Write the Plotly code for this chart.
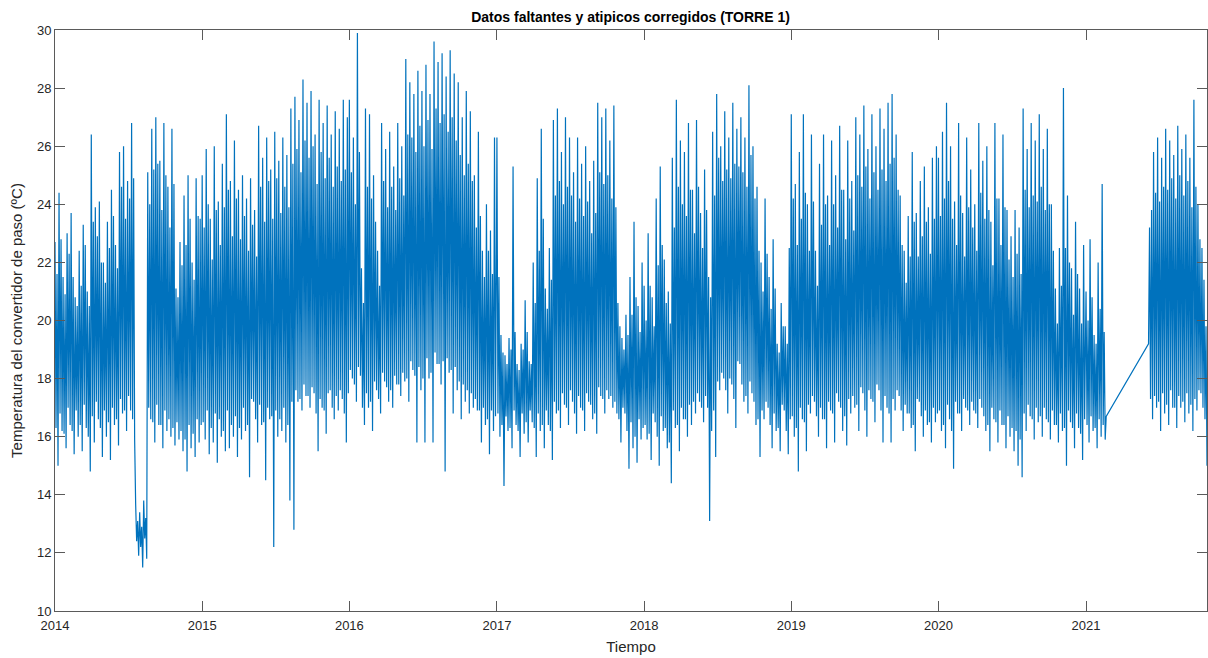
import pandas as pd
import plotly.graph_objects as go

# Temperature readings (ºC), one every 2.5 days
temp_2014 = [22.7, 16.3, 21.6, 15.0, 24.4, 16.8, 22.8, 16.2, 21.5, 16.1, 20.9, 15.6, 23.0, 17.0, 22.3, 16.4,
             23.7, 16.2, 21.5, 15.4, 20.8, 16.9, 20.5, 16.0, 22.4, 16.4, 21.2, 15.5, 23.3, 17.1, 22.6, 16.3,
             21.0, 16.0, 20.5, 14.8, 26.4, 16.7, 23.4, 15.8, 23.9, 17.2, 22.9, 16.6, 24.1, 16.3, 22.0, 15.3,
             22.0, 16.9, 21.3, 16.0, 23.4, 16.5, 22.5, 15.2, 24.5, 17.0, 23.6, 16.4, 22.6, 16.6, 21.8, 15.7,
             25.8, 17.3, 24.6, 16.8, 26.0, 16.9, 23.5, 16.2, 24.8, 17.4, 24.2, 16.9, 26.8, 16.6, 24.9, 15.9,
             13.7, 12.4, 13.1, 11.9, 13.4, 12.2, 12.9, 11.5, 13.8, 12.5, 13.2, 11.8, 25.1, 17.0, 24.0, 16.6,
             26.6, 16.5, 25.2, 15.8, 27.0, 17.1, 25.4, 16.4, 25.5, 16.4, 23.8, 15.6, 26.8, 16.9, 25.0, 16.2,
             24.6, 16.6, 23.2, 16.0, 26.6, 16.3, 24.7, 15.7, 21.1, 16.5, 20.8, 15.9, 22.7, 16.2, 21.9, 15.5,
             24.3, 15.9, 22.6, 14.8, 25.0, 16.4, 23.5, 15.6, 22.0, 16.1, 21.4, 15.3, 24.9, 16.6, 23.6, 15.8,
             23.5, 16.4]
temp_2015 = [25.0, 16.5, 23.2, 15.9, 25.9, 16.9, 24.0, 15.4, 23.5, 16.3, 22.1, 15.8, 26.0, 16.8, 23.8, 15.1,
             24.1, 16.6, 22.6, 16.0, 25.4, 16.2, 23.9, 15.5, 27.1, 16.9, 24.5, 15.6, 24.8, 16.4, 22.9, 16.0,
             26.2, 16.7, 24.2, 15.3, 24.5, 16.3, 22.8, 15.9, 25.0, 17.0, 23.6, 16.2, 24.2, 16.4, 22.4, 14.6,
             24.9, 17.3, 23.3, 17.2, 23.8, 16.6, 22.2, 15.8, 26.7, 17.1, 24.6, 16.4, 25.6, 16.5, 23.4, 14.5,
             26.3, 17.0, 24.8, 16.6, 25.2, 16.7, 23.5, 12.2, 26.5, 16.9, 24.9, 16.0, 25.5, 16.6, 23.7, 16.2,
             26.3, 17.0, 24.6, 15.8, 25.7, 16.4, 23.9, 13.8, 27.3, 17.2, 25.4, 12.8, 27.7, 17.6, 25.9, 17.2,
             26.9, 17.3, 25.1, 16.9, 28.3, 17.8, 26.2, 17.4, 27.5, 17.4, 25.6, 17.0, 27.9, 17.7, 26.0, 17.5,
             26.4, 16.8, 24.7, 15.5, 27.6, 17.3, 25.8, 17.0, 26.8, 16.9, 24.9, 16.1, 27.4, 17.5, 25.6, 17.6,
             26.4, 17.0, 24.6, 16.6, 27.2, 17.4, 25.3, 16.9, 26.6, 17.6, 24.8, 17.3, 27.6, 16.8, 25.2, 15.8,
             27.0, 17.5]
temp_2016 = [27.6, 18.3, 25.1, 18.0, 26.3, 17.8, 24.0, 17.2, 29.9, 18.4, 25.8, 18.1, 21.8, 17.0, 20.6, 16.4,
             27.3, 17.5, 24.6, 17.0, 27.1, 17.2, 24.2, 16.2, 25.0, 17.9, 23.4, 17.6, 22.4, 17.3, 21.2, 16.8,
             26.8, 18.2, 24.8, 17.9, 25.9, 17.7, 23.9, 17.2, 26.5, 17.6, 24.6, 17.0, 25.3, 18.1, 23.8, 17.8,
             26.8, 17.8, 24.9, 17.4, 26.0, 18.2, 24.3, 17.9, 29.0, 18.0, 26.4, 17.2, 28.2, 18.6, 26.3, 18.3,
             27.8, 18.1, 25.8, 15.8, 28.6, 18.4, 26.7, 17.6, 27.9, 18.0, 26.0, 15.8, 28.8, 18.7, 26.9, 18.0,
             27.8, 18.2, 25.9, 15.8, 29.6, 18.9, 27.3, 18.5, 28.9, 18.5, 26.8, 17.8, 29.2, 18.6, 27.1, 14.8,
             28.4, 18.7, 26.5, 18.2, 29.3, 18.3, 27.0, 16.8, 28.5, 18.4, 26.2, 17.6, 28.2, 17.9, 25.7, 16.6,
             27.0, 17.8, 25.0, 17.2, 27.9, 17.6, 25.4, 16.8, 27.2, 17.5, 24.8, 17.0, 25.0, 17.3, 23.2, 16.9,
             26.5, 16.9, 23.6, 15.8, 22.4, 17.0, 21.5, 16.4, 24.0, 16.6, 22.4, 15.4, 23.1, 16.9, 21.6, 16.2,
             26.3, 16.7, 23.0]
temp_2017 = [26.3, 16.8, 21.5, 16.0, 19.5, 16.4, 18.9, 14.3, 18.8, 16.7, 18.5, 16.2, 19.4, 16.3, 19.0, 15.6,
             25.3, 16.9, 19.6, 16.4, 18.5, 16.2, 18.3, 15.3, 19.2, 16.8, 19.0, 16.1, 20.7, 16.5, 19.6, 15.8,
             18.6, 16.9, 18.5, 16.5, 22.0, 16.3, 20.6, 15.3, 24.9, 16.8, 22.4, 16.2, 26.6, 16.4, 23.5, 15.6,
             21.1, 16.9, 20.4, 16.4, 22.5, 16.2, 21.4, 15.2, 26.9, 17.2, 24.3, 16.8, 27.3, 16.9, 24.8, 16.3,
             25.8, 17.5, 24.0, 17.1, 27.0, 17.0, 24.6, 16.4, 26.3, 17.6, 24.3, 17.2, 25.1, 16.8, 23.4, 16.1,
             26.3, 17.4, 24.2, 17.0, 25.4, 16.9, 23.6, 16.2, 26.0, 17.5, 24.1, 17.2, 24.8, 17.1, 23.0, 16.6,
             25.5, 16.8, 23.7, 16.1, 27.5, 17.7, 25.1, 17.4, 27.0, 17.3, 24.7, 16.8, 27.3, 17.6, 25.0, 17.3,
             26.2, 17.4, 24.2, 17.0, 27.4, 17.2, 23.9, 16.8, 20.6, 16.6, 19.8, 15.8, 19.4, 17.0, 19.0, 16.8,
             20.2, 16.2, 19.5, 14.9, 21.5, 16.5, 20.2, 15.6, 23.4, 16.0, 20.8, 15.1, 20.5, 16.6, 19.6, 15.9,
             22.0, 16.3]
temp_2018 = [21.2, 16.4, 20.0, 15.9, 23.0, 16.1, 21.2, 15.2, 20.8, 16.8, 19.8, 16.5, 24.2, 16.0, 21.9, 15.0,
             25.3, 16.7, 22.6, 16.2, 22.1, 16.3, 20.6, 15.6, 21.0, 15.8, 19.9, 14.4, 25.6, 16.9, 23.2, 16.3,
             27.6, 16.4, 24.6, 15.5, 26.2, 17.0, 24.0, 16.6, 25.8, 16.6, 23.6, 16.0, 26.8, 17.1, 24.5, 16.4,
             24.5, 17.2, 23.0, 16.8, 26.9, 17.5, 24.6, 17.2, 23.7, 17.0, 22.5, 16.5, 25.2, 17.4, 23.8, 17.0,
             21.5, 13.1, 20.8, 16.2, 26.5, 16.9, 24.3, 15.3, 27.8, 17.9, 25.6, 17.6, 26.0, 18.2, 24.8, 18.0,
             27.2, 17.6, 25.2, 16.8, 26.3, 18.0, 24.9, 17.8, 27.5, 17.3, 25.4, 16.3, 26.6, 18.6, 25.3, 18.5,
             27.0, 17.8, 25.1, 17.2, 26.3, 17.4, 24.6, 16.8, 28.1, 17.9, 25.7, 17.5, 26.0, 17.2, 24.2, 16.4,
             24.6, 16.6, 22.4, 15.3, 22.0, 16.9, 21.0, 16.6, 24.2, 17.2, 22.3, 17.0, 21.5, 16.4, 20.4, 15.6,
             22.8, 16.8, 21.1, 16.2, 19.2, 16.3, 18.9, 15.5, 20.6, 17.1, 19.8, 16.9, 19.8, 16.2, 19.2, 15.4,
             22.5, 16.6]
temp_2019 = [27.1, 16.7, 24.2, 16.0, 24.7, 16.3, 22.6, 14.8, 25.8, 17.0, 23.5, 16.6, 27.1, 16.5, 24.4, 15.5,
             24.0, 17.1, 22.4, 16.8, 26.4, 17.4, 24.1, 17.2, 22.4, 16.7, 21.2, 16.0, 25.4, 17.0, 23.3, 16.6,
             26.4, 16.6, 24.0, 15.6, 24.3, 17.2, 22.6, 16.9, 26.2, 16.8, 24.0, 15.8, 25.0, 17.5, 23.2, 17.2,
             26.7, 17.0, 24.5, 16.2, 24.5, 16.7, 22.8, 15.7, 26.2, 17.3, 24.2, 16.8, 24.8, 17.4, 23.1, 17.0,
             27.0, 17.1, 25.0, 16.2, 26.4, 17.7, 24.6, 17.5, 27.4, 16.9, 25.3, 16.0, 25.9, 17.6, 24.2, 17.3,
             27.1, 17.2, 25.1, 16.5, 26.0, 17.8, 24.5, 17.6, 27.3, 16.9, 25.2, 15.8, 26.6, 17.4, 24.8, 17.0,
             27.5, 16.8, 25.4, 15.8, 27.8, 17.3, 25.6, 16.9, 26.4, 17.6, 24.5, 17.4, 24.3, 16.9, 22.6, 16.2,
             22.4, 17.1, 21.3, 16.8, 23.6, 16.8, 22.2, 16.3, 25.8, 16.4, 23.4, 15.5, 23.7, 17.3, 22.2, 17.2,
             24.8, 16.7, 22.9, 16.0, 25.3, 16.9, 23.4, 16.4, 23.9, 16.5, 22.3, 15.8, 25.6, 17.0, 23.5, 16.5,
             26.0, 16.8]
temp_2020 = [25.6, 16.9, 23.6, 16.2, 26.5, 16.4, 24.2, 15.6, 27.5, 17.1, 24.8, 16.6, 26.0, 16.2, 23.5, 14.9,
             24.1, 17.2, 22.6, 16.8, 26.8, 16.8, 24.3, 16.2, 23.7, 17.3, 22.2, 17.0, 26.3, 16.9, 23.9, 16.4,
             25.2, 17.2, 23.2, 16.9, 24.0, 16.8, 22.4, 16.3, 26.8, 17.3, 24.4, 17.0, 25.5, 16.7, 23.5, 16.2,
             26.0, 16.4, 23.8, 15.5, 23.4, 17.0, 21.9, 16.6, 26.8, 16.5, 24.2, 15.8, 24.2, 16.9, 22.6, 16.4,
             26.4, 16.4, 23.9, 15.6, 23.8, 16.7, 22.1, 16.0, 22.9, 16.3, 21.5, 15.5, 23.8, 16.2, 22.3, 15.0,
             23.2, 15.9, 21.6, 14.6, 27.3, 16.8, 24.5, 16.2, 25.9, 17.1, 23.9, 16.7, 26.8, 16.6, 24.3, 15.9,
             26.2, 17.0, 24.1, 16.5, 27.1, 16.7, 24.6, 16.0, 25.9, 17.0, 23.8, 16.6, 26.6, 16.5, 24.0, 15.9,
             24.0, 16.9, 22.4, 16.4, 21.1, 16.4, 19.9, 15.8, 22.5, 16.8, 21.2, 16.2, 28.0, 16.3, 22.5, 15.0,
             24.3, 16.9, 22.0, 16.5, 21.8, 16.3, 20.2, 15.6, 23.4, 16.8, 21.6, 16.3, 21.1, 16.1, 19.9, 15.2,
             22.6, 16.6, 21.0]
temp_2021_before_gap = [21.0, 16.4, 20.0, 15.8, 22.8, 16.7, 20.8, 16.2, 19.5, 16.3, 19.2, 15.6,
                        22.0, 16.6, 20.4, 16.0, 24.7, 16.4, 19.6, 15.9, 16.7]
temp_2021_after_gap = [19.2, 23.2, 17.3, 23.8, 16.6, 25.8, 17.4, 24.4, 17.0, 26.3, 17.2, 24.1,
                       16.2, 25.6, 17.5, 24.6, 16.8, 26.6, 17.1, 24.5, 16.4, 26.2, 17.6, 24.9,
                       17.0, 25.7, 17.0, 24.2, 16.3, 26.7, 17.4, 25.0, 17.0, 25.9, 17.2, 24.3,
                       16.5, 26.4, 17.5, 24.8, 16.8, 25.6, 17.1, 23.9, 16.2, 27.6, 17.3, 24.6,
                       16.9, 24.0, 17.6, 22.8, 17.5, 22.5, 17.0, 21.4, 16.6, 19.8, 15.0]

segment_starts = ["2014-01-01", "2015-01-01", "2016-01-01", "2017-01-01", "2018-01-01",
                  "2019-01-01", "2020-01-01", "2021-01-01", "2021-06-05"]
segments = [temp_2014, temp_2015, temp_2016, temp_2017, temp_2018, temp_2019, temp_2020,
            temp_2021_before_gap, temp_2021_after_gap]

dates, temps = [], []
for start, vals in zip(segment_starts, segments):
    dates.extend(pd.date_range(start, periods=len(vals), freq="60h"))
    temps.extend(vals)

year_ticks = [f"{y}-01-01" for y in range(2014, 2022)]
year_labels = [str(y) for y in range(2014, 2022)]

fig = go.Figure()
fig.add_trace(go.Scatter(x=dates, y=temps, mode="lines",
                         line=dict(color="#0072BD", width=1.2), showlegend=False))

axis_common = dict(showline=True, linecolor="#5a5a5a", linewidth=1, mirror="ticks",
                   ticks="inside", ticklen=10, tickcolor="#5a5a5a", tickwidth=1,
                   showgrid=False, zeroline=False,
                   tickfont=dict(family="Liberation Sans, Arial", size=13, color="#262626"))

fig.update_layout(
    width=1208, height=658,
    margin=dict(l=55, r=1, t=30, b=47),
    paper_bgcolor="white", plot_bgcolor="white",
    title=dict(text="<b>Datos faltantes y atipicos corregidos (TORRE 1)</b>",
               x=0.522, xref="container", y=1 - 17 / 658, yref="container",
               xanchor="center", yanchor="middle",
               font=dict(family="Liberation Sans, Arial", size=14, color="black")),
    xaxis=dict(type="date", range=["2014-01-01", "2021-10-28"],
               tickvals=year_ticks, ticktext=year_labels, ticklabelstandoff=2,
               title=dict(text="Tiempo", standoff=9,
                          font=dict(family="Liberation Sans, Arial", size=15, color="#262626")),
               **axis_common),
    yaxis=dict(range=[10, 30], dtick=2, tick0=10,
               title=dict(text="Temperatura del convertidor de paso (ºC)", standoff=10,
                          font=dict(family="Liberation Sans, Arial", size=15, color="#262626")),
               **axis_common),
)

fig.write_html("out.html")
